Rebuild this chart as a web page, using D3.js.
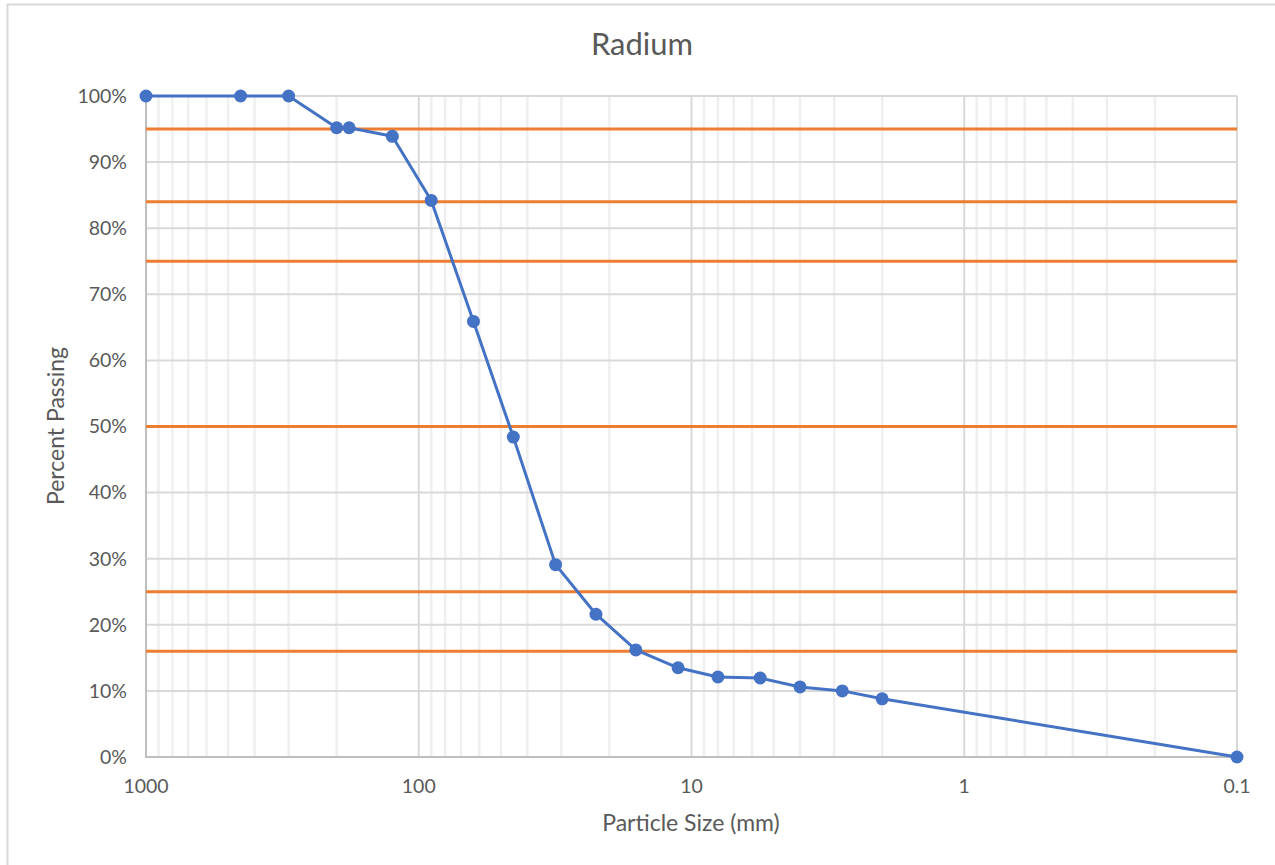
<!DOCTYPE html>
<html>
<head>
<meta charset="utf-8">
<script src="https://cdn.jsdelivr.net/npm/d3@7"></script>
<style>
  html, body { margin: 0; padding: 0; background: #fff; }
  svg { display: block; }
  text { font-family: Lato, "Open Sans", sans-serif; fill: #595959; }
</style>
</head>
<body>
<svg id="chart" width="1275" height="865"></svg>
<script>
// Sieve sizes (mm) and cumulative percent passing
const sizes   = [1000, 450, 300, 200, 180, 125, 90, 63, 45, 31.5, 22.4, 16, 11.2, 8, 5.6, 4, 2.8, 2, 0.1];
const passing = [100, 100, 100, 95.2, 95.2, 93.9, 84.2, 65.9, 48.4, 29.1, 21.6, 16.2, 13.5, 12.1, 11.95, 10.6, 10.0, 8.8, 0];

// Reference levels (percent passing)
const refLevels = [95, 84, 75, 50, 25, 16];

// Axis ticks
const xTicks = [1000, 100, 10, 1, 0.1];
const xTickLabels = ["1000", "100", "10", "1", "0.1"];
const yTicks = [0, 10, 20, 30, 40, 50, 60, 70, 80, 90, 100];

const svg = d3.select("#chart");
const W = 1275, H = 865;
const m = { left: 146, right: 1237, top: 96, bottom: 757 };

// Chart frame
svg.append("rect")
  .attr("x", 7.5).attr("y", 4.5)
  .attr("width", W + 10).attr("height", H + 10)
  .attr("fill", "#fff").attr("stroke", "#d9d9d9").attr("stroke-width", 2);

const x = d3.scaleLog().domain([1000, 0.1]).range([m.left, m.right]);
const y = d3.scaleLinear().domain([0, 100]).range([m.bottom, m.top]);

const grid = svg.append("g");

// Minor vertical gridlines (2..9 within each decade)
const minor = [];
for (let e = -1; e < 3; e++) {
  for (let k = 2; k <= 9; k++) minor.push(k * Math.pow(10, e));
}
grid.selectAll("line.minor").data(minor).join("line")
  .attr("class", "minor")
  .attr("x1", d => x(d)).attr("x2", d => x(d))
  .attr("y1", m.top).attr("y2", m.bottom)
  .attr("stroke", "#efefef").attr("stroke-width", 2.5);

// Horizontal gridlines
grid.selectAll("line.hy").data(yTicks.filter(d => d > 0)).join("line")
  .attr("class", "hy")
  .attr("x1", m.left).attr("x2", m.right)
  .attr("y1", d => y(d)).attr("y2", d => y(d))
  .attr("stroke", "#d9d9d9").attr("stroke-width", 2);

// Major vertical gridlines (decades)
grid.selectAll("line.major").data(xTicks).join("line")
  .attr("class", "major")
  .attr("x1", d => x(d)).attr("x2", d => x(d))
  .attr("y1", m.top).attr("y2", m.bottom)
  .attr("stroke", "#d9d9d9").attr("stroke-width", 2);

// Axis lines
svg.append("line")
  .attr("x1", m.left).attr("x2", m.left)
  .attr("y1", m.top).attr("y2", m.bottom)
  .attr("stroke", "#bfbfbf").attr("stroke-width", 2);
svg.append("line")
  .attr("x1", m.left - 1).attr("x2", m.right)
  .attr("y1", m.bottom).attr("y2", m.bottom)
  .attr("stroke", "#bfbfbf").attr("stroke-width", 2);

// Y tick labels
svg.append("g").selectAll("text").data(yTicks).join("text")
  .attr("x", 127).attr("y", d => y(d))
  .attr("dy", "0.35em")
  .attr("text-anchor", "end")
  .attr("font-size", 19.5)
  .text(d => d + "%");

// X tick labels
svg.append("g").selectAll("text").data(xTicks).join("text")
  .attr("x", d => x(d)).attr("y", 793)
  .attr("text-anchor", "middle")
  .attr("font-size", 19.5)
  .text((d, i) => xTickLabels[i]);

// Reference lines
svg.append("g").selectAll("line").data(refLevels).join("line")
  .attr("x1", m.left).attr("x2", m.right)
  .attr("y1", d => y(d)).attr("y2", d => y(d))
  .attr("stroke", "#ED7D31").attr("stroke-width", 3);

// Grading curve
const pts = sizes.map((s, i) => [s, passing[i]]);
svg.append("path")
  .datum(pts)
  .attr("fill", "none")
  .attr("stroke", "#4472C4")
  .attr("stroke-width", 3)
  .attr("stroke-linejoin", "round")
  .attr("d", d3.line().x(d => x(d[0])).y(d => y(d[1])));

svg.append("g").selectAll("circle").data(pts).join("circle")
  .attr("cx", d => x(d[0])).attr("cy", d => y(d[1]))
  .attr("r", 6.5)
  .attr("fill", "#4472C4");

// Titles
svg.append("text")
  .attr("x", 642).attr("y", 55)
  .attr("text-anchor", "middle")
  .attr("font-size", 31)
  .text("Radium");

svg.append("text")
  .attr("x", 691).attr("y", 831)
  .attr("text-anchor", "middle")
  .attr("font-size", 23)
  .text("Particle Size (mm)");

svg.append("text")
  .attr("transform", "translate(64,426) rotate(-90)")
  .attr("text-anchor", "middle")
  .attr("font-size", 23)
  .text("Percent Passing");
</script>
</body>
</html>
